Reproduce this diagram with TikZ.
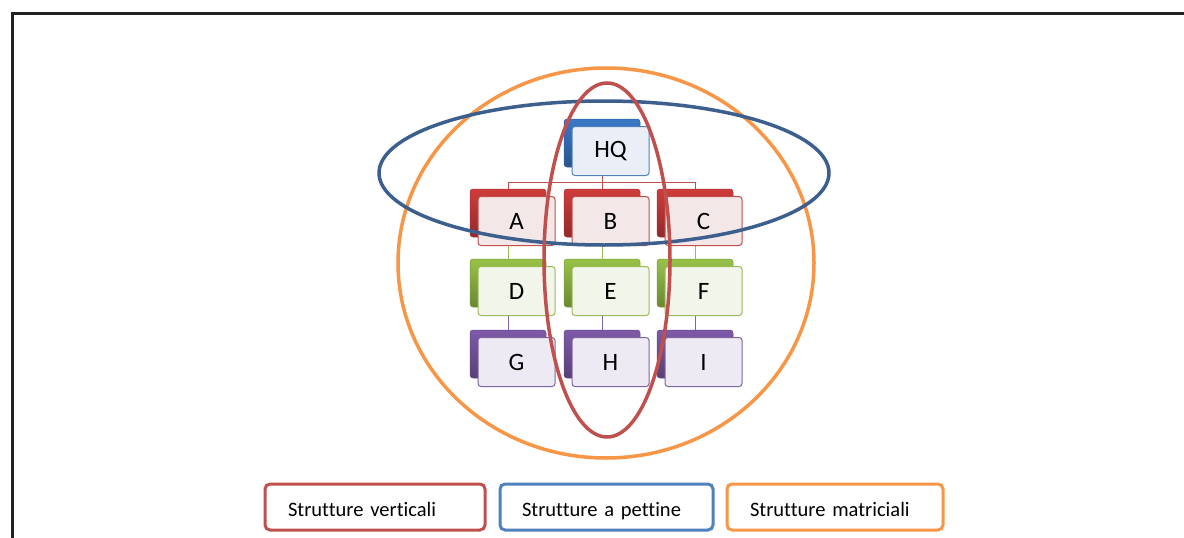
\documentclass[tikz,border=0pt]{standalone}
\usepackage{fontspec}
\setmainfont{Carlito}[Ligatures=CommonOff]
\definecolor{hqb}{HTML}{4F81BD}
\definecolor{hqd}{HTML}{3A78C8}
\definecolor{hqf}{HTML}{E9EEF7}
\definecolor{rb}{HTML}{C0504D}
\definecolor{rd}{HTML}{D03C3C}
\definecolor{rf}{HTML}{F3E7E7}
\definecolor{gb}{HTML}{9BBB59}
\definecolor{gd}{HTML}{98C248}
\definecolor{gf}{HTML}{F1F5EA}
\definecolor{pb}{HTML}{8064A2}
\definecolor{pd}{HTML}{7E5AA8}
\definecolor{pf}{HTML}{EDEAF3}
\definecolor{ell}{HTML}{3C5F8E}
\definecolor{orng}{HTML}{F79646}
\definecolor{frame}{HTML}{222222}
\usetikzlibrary{calc}
\tikzset{
  backbox/.style={rectangle, rounded corners=3pt, minimum width=76pt, minimum height=48pt, inner sep=0pt},
  frontbox/.style={rectangle, rounded corners=3pt, minimum width=77pt, minimum height=49pt, inner sep=0pt, line width=1pt, font=\fontsize{25}{28}\selectfont},
  legbox/.style={rectangle, rounded corners=5pt, line width=3pt, minimum height=46pt, align=left, text height=21pt, text depth=2pt, font=\fontsize{20.5}{24}\selectfont},
  conn/.style={line width=0.9pt},
  ringline/.style={line width=3.5pt}
}
\newcommand{\orgbox}[7]{%
  \node[backbox, top color=#4, bottom color=#4!70!black, draw=#4!80!black, line width=0.5pt] (#1b) at (#2,#3) {};
  \node[frontbox, fill=#6, draw=#5] (#1f) at ($(#1b.center)+(8.5,8)$) {#7};
}
\begin{document}
\begin{tikzpicture}[x=1pt,y=-1pt]
\useasboundingbox (0,0) rectangle (1184,538);
\fill[white] (0,0) rectangle (1184,538);
% frame
\draw[frame, line width=3pt] (12,538) -- (12,13) -- (1184,13);
% connectors
\coordinate (bus) at (602,182);
\coordinate (hqpos) at (602,143);
\draw[conn, rb] (hqpos) -- (bus);
\draw[conn, rb] (508,182) -- (695,182);
\foreach \xx in {508,602,695} {
  \draw[conn, rb] (\xx,182) -- (\xx,213);
  \draw[conn, gb] (\xx,213) -- (\xx,283);
  \draw[conn, pb] (\xx,283) -- (\xx,354);
}
% nodes
\orgbox{HQ}{602}{143}{hqd}{hqb}{hqf}{HQ}
\orgbox{A}{508}{213}{rd}{rb}{rf}{A}
\orgbox{B}{602}{213}{rd}{rb}{rf}{B}
\orgbox{C}{695}{213}{rd}{rb}{rf}{C}
\orgbox{D}{508}{283}{gd}{gb}{gf}{D}
\orgbox{E}{602}{283}{gd}{gb}{gf}{E}
\orgbox{F}{695}{283}{gd}{gb}{gf}{F}
\orgbox{G}{508}{354}{pd}{pb}{pf}{G}
\orgbox{H}{602}{354}{pd}{pb}{pf}{H}
\orgbox{I}{695}{354}{pd}{pb}{pf}{I}
% rings
\draw[ringline, orng] (606,263) ellipse [x radius=208, y radius=195];
\draw[ringline, ell] (604,173) ellipse [x radius=225, y radius=72];
\draw[ringline, rb] (607,260) ellipse [x radius=63, y radius=177];
% legend
\node[legbox, draw=rb, text width=174pt, inner xsep=23pt] (l1) at (375,507) {\mbox{Strutture verticali}};
\node[legbox, draw=hqb, text width=169pt, inner xsep=22pt] (l2) at (606.5,507) {\mbox{Strutture a pettine}};
\node[legbox, draw=orng, text width=170pt, inner xsep=23pt] (l3) at (835,507) {\mbox{Strutture matriciali}};
\end{tikzpicture}
\end{document}
